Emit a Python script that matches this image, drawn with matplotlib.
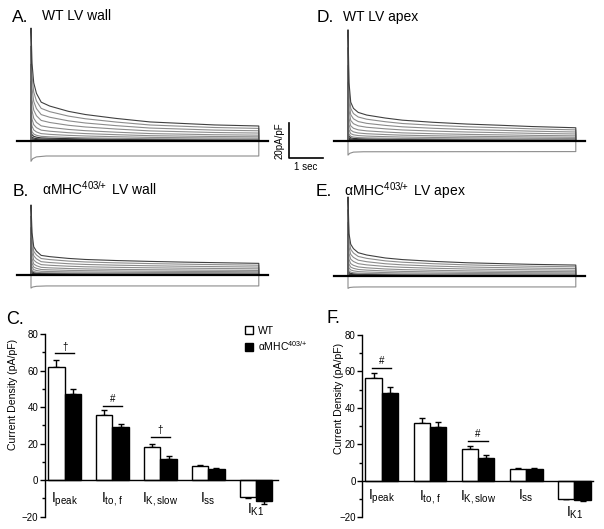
import matplotlib
matplotlib.use("Agg")
import matplotlib.pyplot as plt
import numpy as np
from matplotlib.patches import Patch
from matplotlib.ticker import MultipleLocator, AutoMinorLocator

plt.rcParams['font.family'] = ['Liberation Sans', 'DejaVu Sans']
plt.rcParams['mathtext.fontset'] = 'custom'
plt.rcParams['mathtext.rm'] = 'Liberation Sans'
plt.rcParams['mathtext.it'] = 'Liberation Sans:italic'

# ---- current traces (time in s, current in pA/pF) ----
t_pts = [0, 0.03, 0.08, 0.16, 0.3, 0.55, 1.1, 1.6, 2.5, 3.5, 4.5, 5.4, 6.7]
wt_wall_top = [64, 44, 33, 27, 22, 19.8, 16.8, 15, 12.8, 10.8, 9.9, 9.1, 8.5]
mut_wall_top = [39.7, 24, 16, 13.5, 11.1, 10.4, 9.4, 8.8, 8.2, 7.7, 7.3, 7.0, 6.6]
wt_apex_top = [63, 33, 22, 18.5, 16.2, 14.7, 13, 11.8, 10.6, 9.6, 8.9, 8.2, 7.5]
mut_apex_top = [44.8, 24, 18, 15.5, 13.2, 11.9, 10.2, 9.3, 8.3, 7.5, 7.0, 6.6, 6.2]

t_k1 = [0, 0.05, 0.16, 0.45, 6.7]
wt_wall_k1 = [-11.5, -10, -9, -8.5, -8.5]
mut_wall_k1 = [-7.4, -6.8, -6.4, -6.2, -6.2]
wt_apex_k1 = [-8, -7, -6.3, -6.1, -6]
mut_apex_k1 = [-7, -6.5, -6.3, -6.2, -6.2]

# relative size of each depolarising step trace vs. the largest one
step_scale = [1.0, 0.84, 0.68, 0.53, 0.39, 0.28, 0.19, 0.12, 0.08, 0.05, 0.03, 0.015]

# ---- bar chart data (pA/pF) ----
categories = [r'I$_{\mathrm{peak}}$', r'I$_{\mathrm{to,\,f}}$', r'I$_{\mathrm{K,slow}}$',
              r'I$_{\mathrm{ss}}$', r'I$_{\mathrm{K1}}$']
wall_wt = [62.1, 35.5, 18.0, 8.0, -9.1]
wall_wt_sem = [3.6, 2.8, 2.0, 0.4, 0.5]
wall_mut = [47.0, 29.1, 11.5, 6.3, -11.3]
wall_mut_sem = [2.7, 1.8, 1.9, 0.3, 1.7]
apex_wt = [56.6, 31.8, 17.5, 6.6, -9.9]
apex_wt_sem = [2.4, 2.4, 1.4, 0.4, 0.3]
apex_mut = [48.3, 29.6, 12.7, 6.6, -10.5]
apex_mut_sem = [3.3, 2.5, 1.5, 0.6, 0.3]
# (group, symbol, height of the bracket line)
wall_sig = [(0, '†', 69.4), (1, '#', 40.6), (2, '†', 23.5)]
apex_sig = [(0, '#', 61.8), (2, '#', 21.7)]

MUT = r'αMHC$^{403/\!\!+}$'

W, H = 604, 529
fig = plt.figure(figsize=(W / 100, H / 100), dpi=100)

PX_S = 34.0     # pixels per second
PX_I = 1.765    # pixels per pA/pF


def px_axes(x0, y0, x1, y1):
    return fig.add_axes([x0 / W, 1 - y1 / H, (x1 - x0) / W, (y1 - y0) / H])


def trace_panel(box, stim_x, base_y, top, k1):
    x0, y0, x1, y1 = box
    ax = px_axes(x0, y0, x1, y1)
    ax.set_xlim((x0 - stim_x) / PX_S, (x1 - stim_x) / PX_S)
    ax.set_ylim((base_y - y1) / PX_I, (base_y - y0) / PX_I)
    ax.axis('off')
    t_end = t_pts[-1]
    tt = [0] + list(t_pts) + [t_end]
    for s in step_scale[::-1]:
        yy = [0] + [s * v for v in top] + [0]
        col = '0.25' if s == 1.0 else ('0.2' if s < 0.1 else '0.55')
        ax.plot(tt, yy, color=col, lw=0.8)
    ax.plot([0] + list(t_k1) + [t_end], [0] + list(k1) + [0], color='0.55', lw=0.8)
    ax.plot([-0.41, 6.97], [0, 0], color='black', lw=1.6)
    return ax


axA = trace_panel((5, 20, 280, 170), 31, 141, wt_wall_top, wt_wall_k1)
axB = trace_panel((5, 195, 280, 298), 31, 275, mut_wall_top, mut_wall_k1)
axD = trace_panel((320, 20, 600, 170), 348, 141, wt_apex_top, wt_apex_k1)
axE = trace_panel((320, 190, 600, 298), 348, 276, mut_apex_top, mut_apex_k1)

# scale bar (20 pA/pF, 1 sec)
sb_t = (289 - 31) / PX_S
sb_top = (141 - 123) / PX_I
axA.plot([sb_t, sb_t, sb_t + 1], [sb_top, sb_top - 20, sb_top - 20], color='black',
         lw=1.2, clip_on=False)
axA.text(sb_t - 0.12, sb_top - 10, '20pA/pF', rotation=90, ha='right', va='center',
         fontsize=7, clip_on=False)
axA.text(sb_t + 0.5, sb_top - 22, '1 sec', ha='center', va='top', fontsize=7, clip_on=False)


def ftext(x, y, s, **kw):
    fig.text(x / W, 1 - y / H, s, va='baseline', **kw)


ftext(11.5, 21.7, 'A.', fontsize=12.5)
ftext(42.5, 20, 'WT LV wall', fontsize=10)
ftext(12.5, 196, 'B.', fontsize=12.5)
ftext(42.5, 195, MUT + ' LV wall', fontsize=10)
ftext(316.5, 22.5, 'D.', fontsize=12.5)
ftext(343, 21, 'WT LV apex', fontsize=10)
ftext(316, 196.5, 'E.', fontsize=12.5)
ftext(344.5, 196, MUT + ' LV apex', fontsize=10)
ftext(6.5, 324, 'C.', fontsize=13)
ftext(326.5, 323, 'F.', fontsize=13)


def bar_panel(box, xlim, wt, wt_sem, mut, mut_sem, sig, lab_y, k1_y, ylab_pos):
    ax = px_axes(*box)
    x = np.arange(len(categories))
    w = 0.34
    ax.bar(x - w / 2, wt, w, color='white', edgecolor='black', lw=1.0, zorder=2)
    ax.bar(x + w / 2, mut, w, color='black', edgecolor='black', lw=1.0, zorder=2)
    for xs, vals, sem in ((x - w / 2, wt, wt_sem), (x + w / 2, mut, mut_sem)):
        lo = [s if v < 0 else 0 for v, s in zip(vals, sem)]
        hi = [s if v >= 0 else 0 for v, s in zip(vals, sem)]
        ax.errorbar(xs, vals, yerr=[lo, hi], fmt='none', ecolor='black', elinewidth=1.0,
                    capsize=2.2, capthick=1.0, zorder=1)
    for i, mark, h in sig:
        ax.plot([i - 0.2, i + 0.2], [h, h], color='black', lw=1.0)
        ax.text(i, h + 1.0, mark, ha='center', va='bottom', fontsize=7)
    ax.set_xlim(*xlim)
    ax.set_ylim(-20, 80)
    ax.spines['top'].set_visible(False)
    ax.spines['right'].set_visible(False)
    ax.spines['bottom'].set_position(('data', 0))
    ax.spines['left'].set_linewidth(1.0)
    ax.spines['bottom'].set_linewidth(1.0)
    ax.set_xticks([])
    ax.yaxis.set_major_locator(MultipleLocator(20))
    ax.yaxis.set_minor_locator(AutoMinorLocator(2))
    ax.tick_params(axis='y', which='major', length=3.5, width=1.0, labelsize=7, pad=1)
    ax.tick_params(axis='y', which='minor', length=2.5, width=1.0)
    for i, c in enumerate(categories):
        ax.text(i, k1_y if wt[i] < 0 else lab_y, c, ha='center', va='baseline', fontsize=10)
    ax.text(ylab_pos[0], ylab_pos[1], 'Current Density (pA/pF)', rotation=90,
            ha='center', va='center', fontsize=7.6, transform=ax.transAxes)
    return ax


axC = bar_panel((44.5, 334, 278, 516.7), (-0.42, 4.457), wall_wt, wall_wt_sem,
                wall_mut, wall_mut_sem, wall_sig, -12.2, -18.4,
                ((13 - 44.5) / 233.5, (516.7 - 394) / 182.7))
axF = bar_panel((362, 335, 592.7, 517.3), (-0.41, 4.38), apex_wt, apex_wt_sem,
                apex_mut, apex_mut_sem, apex_sig, -10.5, -19.6,
                ((339 - 362) / 230.7, (517.3 - 398) / 182.3))

handles = [Patch(facecolor='white', edgecolor='black', lw=1.0),
           Patch(facecolor='black', edgecolor='black', lw=1.0)]
axC.legend(handles, ['WT', MUT], loc='upper left',
           bbox_to_anchor=(245 / W, 1 - 326 / H), bbox_transform=fig.transFigure,
           frameon=False, fontsize=7.5, handlelength=0.8, handleheight=0.8,
           handletextpad=0.4, labelspacing=0.3, borderpad=0, borderaxespad=0)

fig.savefig('out.png', dpi=100)
